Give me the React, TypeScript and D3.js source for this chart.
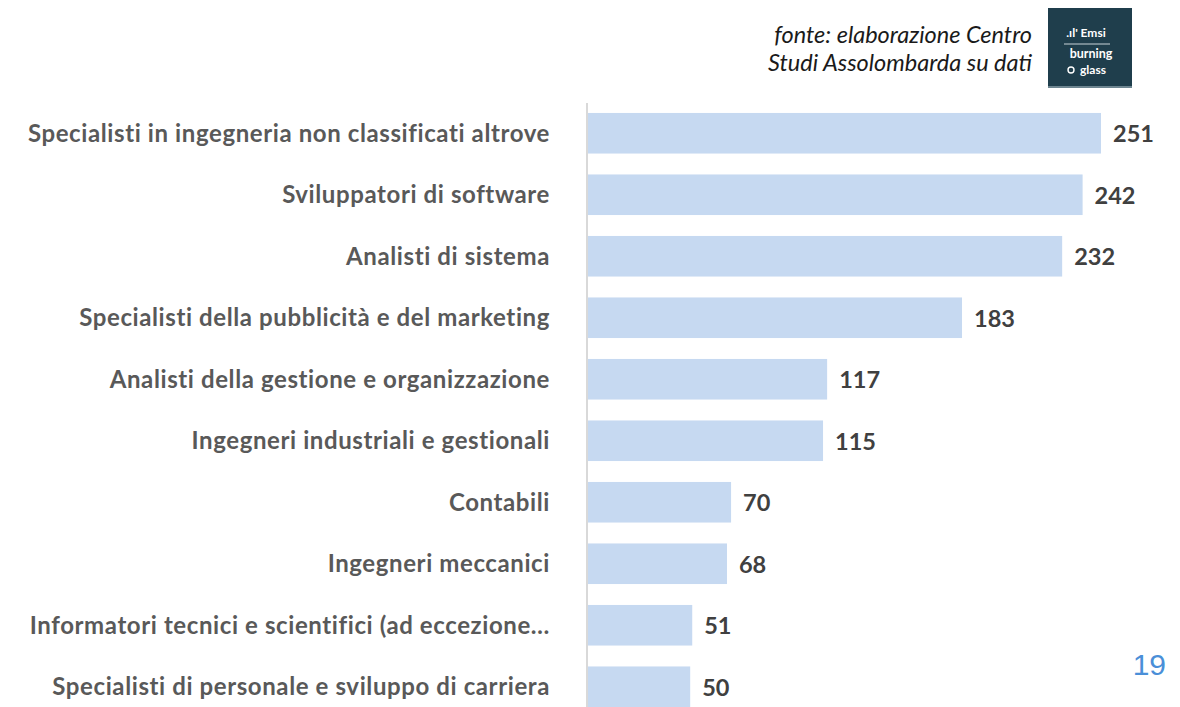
import React from 'react';
import * as d3 from 'd3';

const categories = [
  'Specialisti in ingegneria non classificati altrove',
  'Sviluppatori di software',
  'Analisti di sistema',
  'Specialisti della pubblicità e del marketing',
  'Analisti della gestione e organizzazione',
  'Ingegneri industriali e gestionali',
  'Contabili',
  'Ingegneri meccanici',
  'Informatori tecnici e scientifici (ad eccezione…',
  'Specialisti di personale e sviluppo di carriera',
];

const values = [251, 242, 232, 183, 117, 115, 70, 68, 51, 50];

const sourceLines = ['fonte: elaborazione Centro', 'Studi Assolombarda su dati'];
const pageNumber = '19';

const width = 1180;
const height = 707;
const font = 'Lato, "Open Sans", sans-serif';

const App = () => {
  const x = d3.scaleLinear().domain([0, d3.max(values) as number]).range([588, 1101]);
  const y = d3
    .scaleBand<string>()
    .domain(categories)
    .range([102.5, 717.5])
    .paddingInner(0.34)
    .paddingOuter(0.17);

  return (
    <svg
      width={width}
      height={height}
      style={{ position: 'fixed', left: 0, top: 0, background: '#fff' }}
    >
      {/* source note */}
      <g fontFamily={font} fontStyle="italic" fontSize={23.5} fill="#1a1a1a" textAnchor="end">
        {sourceLines.map((s, i) => (
          <text key={s} x={1032} y={43 + i * 28}>
            {s}
          </text>
        ))}
      </g>

      {/* logo */}
      <g fontFamily={font} fill="#fff" textAnchor="middle">
        <rect x={1048} y={8} width={84} height={80} fill="#1f3e4c" />
        <rect x={1048} y={86} width={84} height={2} fill="#6d8590" />
        <text x={1086} y={37} fontSize={12} fontWeight={700}>
          .ıl' Emsi
        </text>
        <line x1={1064} x2={1110} y1={44} y2={44} stroke="#c9d3d8" strokeWidth={1} />
        <text x={1091} y={58} fontSize={12.5} fontWeight={700}>
          burning
        </text>
        <circle cx={1071} cy={70} r={3} fill="none" stroke="#fff" strokeWidth={1.4} />
        <text x={1093} y={74} fontSize={12} fontWeight={700}>
          glass
        </text>
      </g>

      {/* bars */}
      {categories.map((c, i) => (
        <rect
          key={c}
          x={x(0)}
          y={y(c)}
          width={x(values[i]) - x(0)}
          height={y.bandwidth()}
          fill="#c6d9f1"
        />
      ))}

      {/* axis line */}
      <line x1={x(0) - 1} x2={x(0) - 1} y1={103} y2={height} stroke="#d9d9d9" strokeWidth={2} />

      {/* category labels */}
      <g
        fontFamily={font}
        fontWeight={700}
        fontSize={24}
        letterSpacing={0.6}
        fill="#595959"
        textAnchor="end"
      >
        {categories.map((c) => (
          <text key={c} x={550} y={(y(c) as number) + y.bandwidth() / 2} dy="0.36em">
            {c}
          </text>
        ))}
      </g>

      {/* value labels */}
      <g fontFamily={font} fontWeight={700} fontSize={23.5} fill="#404040">
        {categories.map((c, i) => (
          <text key={c} x={x(values[i]) + 12} y={(y(c) as number) + y.bandwidth() / 2} dy="0.38em">
            {values[i]}
          </text>
        ))}
      </g>

      <text
        x={1166}
        y={675}
        textAnchor="end"
        fontFamily='"Liberation Sans", Arial, sans-serif'
        fontSize={30}
        fill="#4a8fd8"
      >
        {pageNumber}
      </text>
    </svg>
  );
};

export default App;
